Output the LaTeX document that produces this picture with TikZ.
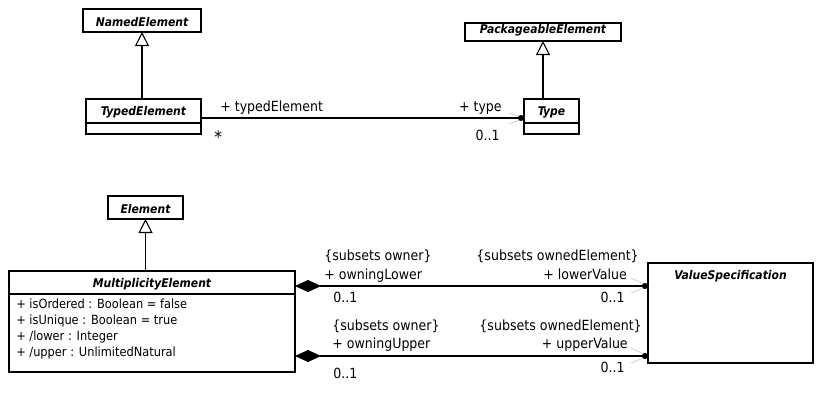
\documentclass[tikz,border=0pt]{standalone}
\usepackage{fontspec}
\setmainfont{DejaVu Sans Condensed}
\usetikzlibrary{arrows.meta,calc}
\begin{document}
\begin{tikzpicture}[x=0.75pt,y=-0.75pt,
  cls/.style={draw, line width=0.8pt, inner sep=0pt, outer sep=0pt, fill=white},
  ttl/.style={font=\bfseries\itshape\fontsize{9}{11}\selectfont, inner sep=0pt, anchor=base},
  lbl/.style={font=\fontsize{9.5}{11}\selectfont, inner sep=0pt},
  albl/.style={font=\fontsize{10.5}{12}\selectfont, inner sep=0pt},
  gen/.style={line width=0.8pt, -{Triangle[open,length=10.5pt,width=10.5pt,line width=0.8pt]}},
  comp/.style={line width=0.8pt, {Diamond[length=19.5pt,width=9pt]}-{Circle[length=4.5pt]}},
  assoc/.style={line width=0.8pt, -{Circle[length=4.5pt]}},
  nav/.style={draw=black!25, line width=0.4pt}
]
\useasboundingbox[fill=white] (0,0) rectangle (827,405);

% boxes
\node[cls, minimum width=88.5pt, minimum height=17.25pt] (named) at (142,20.5) {};
\node[cls, minimum width=86.25pt, minimum height=26.25pt] (typed) at (143.5,116.5) {};
\node[cls, minimum width=117pt, minimum height=13.5pt] (pack) at (543,32) {};
\node[cls, minimum width=41.25pt, minimum height=26.25pt] (type) at (551.5,116.5) {};
\node[cls, minimum width=56.25pt, minimum height=17.25pt] (elem) at (145.5,207.5) {};
\node[cls, minimum width=214.5pt, minimum height=75.75pt] (mult) at (152,321.5) {};
\node[cls, minimum width=123.75pt, minimum height=75pt] (vs) at (730.5,313) {};

% dividers
\draw[line width=0.8pt] (typed.west |- 0,123) -- (typed.east |- 0,123);
\draw[line width=0.8pt] (type.west |- 0,123) -- (type.east |- 0,123);
\draw[line width=0.8pt] (mult.west |- 0,294) -- (mult.east |- 0,294);

% titles
\node[ttl] (namedT) at (142,26) {NamedElement};
\node[ttl] (typedT) at (143.5,115) {TypedElement};
\node[ttl] (packT) at (543,33) {PackageableElement};
\node[ttl] (typeT) at (551.5,115) {Type};
\node[ttl] (elemT) at (145.5,213) {Element};
\node[ttl] (multT) at (152,287) {MultiplicityElement};
\node[ttl] (vsT) at (730.5,279) {ValueSpecification};

% attributes
\node[lbl, anchor=base west] (a1) at (16,308) {+ isOrdered : Boolean = false};
\node[lbl, anchor=base west] (a2) at (16,324) {+ isUnique : Boolean = true};
\node[lbl, anchor=base west] (a3) at (16,340) {+ /lower : Integer};
\node[lbl, anchor=base west] (a4) at (16,356) {+ /upper : UnlimitedNatural};

% generalizations
\draw[gen] (typed.north -| named.south) -- (named.south);
\draw[gen] (type.north -| pack.south) -- (pack.south);
\draw[gen] (mult.north -| elem.south) -- (elem.south);

% association typedElement - type
\coordinate (yT) at (0,118);
\coordinate (navT) at (type.west |- yT);
\draw[nav] ($(navT)+(-15,-5)$) -- (navT) -- ($(navT)+(-15,6)$);
\draw[assoc] (typed.east |- yT) -- (type.west |- yT);
\node[albl, anchor=base west] (lTE) at (220,111) {+ typedElement};
\node[font=\fontsize{13}{14}\selectfont, inner sep=0pt, anchor=base west] (lStar) at (214,143) {*};
\node[albl, anchor=base east] (lType) at (502,111) {+ type};
\node[albl, anchor=base east] (lTM) at (500,140) {0..1};

% compositions
\coordinate (yU) at (0,286);
\coordinate (yL) at (0,356);
\coordinate (navU) at (vs.west |- yU);
\coordinate (navL) at (vs.west |- yL);
\draw[nav] ($(navU)+(-17,-8)$) -- (navU) -- ($(navU)+(-17,7)$);
\draw[nav] ($(navL)+(-17,-8)$) -- (navL) -- ($(navL)+(-17,7)$);
\draw[comp] (mult.east |- yU) -- (vs.west |- yU);
\draw[comp] (mult.east |- yL) -- (vs.west |- yL);

\node[albl, anchor=base west] (u1) at (324,260) {\{subsets owner\}};
\node[albl, anchor=base west] (u2) at (324,279) {+ owningLower};
\node[albl, anchor=base west] (u3) at (333,302) {0..1};
\node[albl, anchor=base east] (u4) at (639,260) {\{subsets ownedElement\}};
\node[albl, anchor=base east] (u5) at (627,279) {+ lowerValue};
\node[albl, anchor=base east] (u6) at (625,302) {0..1};

\node[albl, anchor=base west] (d1) at (332,330) {\{subsets owner\}};
\node[albl, anchor=base west] (d2) at (332,348) {+ owningUpper};
\node[albl, anchor=base west] (d3) at (333,378) {0..1};
\node[albl, anchor=base east] (d4) at (642,330) {\{subsets ownedElement\}};
\node[albl, anchor=base east] (d5) at (628,348) {+ upperValue};
\node[albl, anchor=base east] (d6) at (625,372) {0..1};
\end{tikzpicture}
\end{document}
